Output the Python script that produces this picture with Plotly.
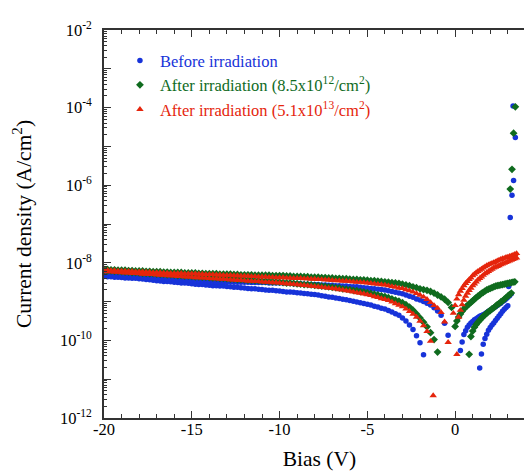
import plotly.graph_objects as go

# ---------------- data (log10 of current density, A/cm^2) ----------------
def steps(start, n, step):
    return [round(start + step * i, 2) for i in range(n)]

# common reverse-bias grid: -20.0 ... -3.2 V (0.2 V steps)
bias_rev = steps(-20.0, 85, 0.2)

# Before irradiation
blue_lo_rev = [-8.35, -8.36, -8.36, -8.37, -8.37, -8.38, -8.39, -8.39, -8.40, -8.40,
               -8.41, -8.42, -8.43, -8.44, -8.45, -8.46, -8.47, -8.48, -8.48, -8.49,
               -8.50, -8.51, -8.52, -8.52, -8.53, -8.54, -8.55, -8.56, -8.56, -8.57,
               -8.58, -8.59, -8.59, -8.60, -8.60, -8.61, -8.62, -8.63, -8.63, -8.64,
               -8.65, -8.66, -8.67, -8.67, -8.68, -8.69, -8.70, -8.71, -8.71, -8.72,
               -8.73, -8.74, -8.75, -8.75, -8.76, -8.77, -8.78, -8.79, -8.80, -8.81,
               -8.82, -8.83, -8.85, -8.86, -8.88, -8.89, -8.91, -8.92, -8.94, -8.95,
               -8.97, -8.99, -9.01, -9.03, -9.05, -9.07, -9.09, -9.12, -9.14, -9.17,
               -9.19, -9.23, -9.27, -9.31, -9.35]
blue_lo_tail_v = [-3.0, -2.8, -2.6, -2.4, -2.2, -2.0, -1.8]
blue_lo_tail = [-9.42, -9.50, -9.60, -9.72, -9.88, -10.06, -10.37]
blue_hi_rev = [-8.31, -8.32, -8.32, -8.33, -8.33, -8.34, -8.35, -8.35, -8.36, -8.36,
               -8.37, -8.38, -8.38, -8.39, -8.39, -8.40, -8.41, -8.41, -8.42, -8.42,
               -8.43, -8.44, -8.44, -8.45, -8.45, -8.46, -8.46, -8.47, -8.47, -8.48,
               -8.48, -8.48, -8.49, -8.49, -8.49, -8.49, -8.49, -8.50, -8.50, -8.50,
               -8.50, -8.50, -8.51, -8.51, -8.51, -8.51, -8.51, -8.52, -8.52, -8.52,
               -8.52, -8.52, -8.53, -8.53, -8.54, -8.54, -8.54, -8.55, -8.55, -8.56,
               -8.56, -8.56, -8.57, -8.57, -8.58, -8.58, -8.59, -8.59, -8.60, -8.60,
               -8.61, -8.62, -8.62, -8.63, -8.64, -8.65, -8.66, -8.67, -8.68, -8.69,
               -8.70, -8.72, -8.74, -8.76, -8.78]
blue_hi_tail_v = [-3.0, -2.8, -2.6, -2.4, -2.2, -2.0, -1.8, -1.6, -1.4, -1.2, -1.0, -0.8, -0.6, -0.4]
blue_hi_tail = [-8.80, -8.83, -8.86, -8.89, -8.93, -8.96, -9.00, -9.04, -9.09, -9.16,
                -9.24, -9.35, -9.56, -9.87]
blue_fwd_hi_v = steps(0.3, 30, 0.1)
blue_fwd_hi = [-10.26, -10.04, -9.85, -9.75, -9.66, -9.60, -9.55, -9.51, -9.47, -9.44,
               -9.41, -9.38, -9.36, -9.34, -9.31, -9.28, -9.25, -9.22, -9.19, -9.16,
               -9.13, -9.10, -9.07, -9.04, -9.00, -8.97, -8.93, -8.89, -8.85, -8.80]
blue_fwd_lo_v = steps(1.4, 17, 0.1)
blue_fwd_lo = [-10.71, -10.35, -10.10, -9.95, -9.84, -9.74, -9.67, -9.60, -9.55, -9.49,
               -9.43, -9.37, -9.31, -9.25, -9.20, -9.15, -9.11]
blue_end_v = [3.05, 3.14, 3.24, 3.33, 3.30, 3.43]
blue_end = [-8.61, -6.83, -6.26, -5.88, -3.96, -4.77]

# After irradiation 8.5e12
green_hi_rev = [-8.17, -8.17, -8.18, -8.18, -8.19, -8.19, -8.19, -8.20, -8.20, -8.21,
                -8.21, -8.21, -8.22, -8.22, -8.23, -8.23, -8.23, -8.24, -8.24, -8.25,
                -8.25, -8.25, -8.25, -8.26, -8.26, -8.26, -8.26, -8.27, -8.27, -8.28,
                -8.28, -8.28, -8.28, -8.29, -8.29, -8.29, -8.29, -8.30, -8.30, -8.31,
                -8.31, -8.31, -8.31, -8.32, -8.32, -8.32, -8.32, -8.32, -8.33, -8.33,
                -8.33, -8.33, -8.34, -8.34, -8.35, -8.35, -8.35, -8.36, -8.36, -8.37,
                -8.37, -8.37, -8.38, -8.38, -8.39, -8.39, -8.40, -8.40, -8.41, -8.41,
                -8.42, -8.43, -8.43, -8.44, -8.44, -8.45, -8.46, -8.46, -8.47, -8.48,
                -8.49, -8.50, -8.51, -8.52, -8.53]
green_hi_tail_v = [-3.0, -2.8, -2.6, -2.4, -2.2, -2.0, -1.8, -1.6, -1.4, -1.2, -1.0, -0.8, -0.6, -0.4, -0.2]
green_hi_tail = [-8.55, -8.57, -8.59, -8.62, -8.64, -8.67, -8.69, -8.71, -8.74, -8.78,
                 -8.83, -8.88, -8.94, -9.02, -9.15]
green_lo_rev = [-8.20, -8.21, -8.21, -8.22, -8.22, -8.23, -8.24, -8.24, -8.25, -8.25,
                -8.26, -8.27, -8.27, -8.28, -8.28, -8.29, -8.30, -8.30, -8.31, -8.31,
                -8.32, -8.33, -8.33, -8.34, -8.34, -8.35, -8.36, -8.36, -8.37, -8.37,
                -8.38, -8.39, -8.39, -8.40, -8.40, -8.41, -8.42, -8.42, -8.43, -8.43,
                -8.44, -8.45, -8.45, -8.46, -8.46, -8.47, -8.48, -8.48, -8.49, -8.49,
                -8.50, -8.51, -8.52, -8.52, -8.53, -8.54, -8.55, -8.56, -8.56, -8.57,
                -8.58, -8.59, -8.60, -8.61, -8.62, -8.63, -8.64, -8.65, -8.67, -8.68,
                -8.69, -8.71, -8.72, -8.74, -8.75, -8.77, -8.79, -8.81, -8.83, -8.85,
                -8.87, -8.90, -8.93, -8.96, -8.99]
green_lo_tail_v = [-3.0, -2.8, -2.6, -2.4, -2.2, -2.0, -1.8, -1.6, -1.4, -1.2, -1.0]
green_lo_tail = [-9.03, -9.08, -9.14, -9.22, -9.32, -9.42, -9.53, -9.65, -9.80, -9.98, -10.30]
green_fwd_hi_v = steps(0.0, 35, 0.1)
green_fwd_hi = [-9.64, -9.50, -9.40, -9.32, -9.25, -9.19, -9.14, -9.10, -9.06, -9.02,
                -8.98, -8.94, -8.90, -8.86, -8.83, -8.79, -8.76, -8.73, -8.70, -8.68,
                -8.66, -8.64, -8.62, -8.60, -8.59, -8.58, -8.57, -8.56, -8.55, -8.54,
                -8.53, -8.52, -8.51, -8.50, -8.49]
green_fwd_lo_v = steps(0.8, 25, 0.1)
green_fwd_lo = [-10.36, -9.90, -9.76, -9.66, -9.59, -9.53, -9.48, -9.43, -9.38, -9.34,
                -9.30, -9.26, -9.23, -9.19, -9.16, -9.12, -9.08, -9.05, -9.01, -8.98,
                -8.94, -8.90, -8.86, -8.82, -8.78]
green_end_v = [3.14, 3.24, 3.33, 3.43]
green_end = [-6.10, -5.59, -4.66, -3.98]

# After irradiation 5.1e13
red_hi_rev = [-8.19, -8.19, -8.20, -8.20, -8.21, -8.21, -8.21, -8.22, -8.22, -8.23,
              -8.23, -8.23, -8.24, -8.24, -8.25, -8.25, -8.25, -8.26, -8.26, -8.27,
              -8.27, -8.27, -8.27, -8.28, -8.28, -8.28, -8.28, -8.29, -8.29, -8.30,
              -8.30, -8.30, -8.31, -8.31, -8.32, -8.32, -8.32, -8.33, -8.33, -8.34,
              -8.34, -8.34, -8.35, -8.35, -8.36, -8.36, -8.36, -8.37, -8.37, -8.38,
              -8.38, -8.38, -8.39, -8.39, -8.40, -8.40, -8.40, -8.41, -8.41, -8.42,
              -8.42, -8.43, -8.43, -8.44, -8.44, -8.45, -8.46, -8.46, -8.47, -8.47,
              -8.48, -8.49, -8.50, -8.50, -8.51, -8.52, -8.53, -8.54, -8.55, -8.56,
              -8.57, -8.59, -8.61, -8.63, -8.65]
red_hi_tail_v = [-3.0, -2.8, -2.6, -2.4, -2.2, -2.0, -1.8, -1.6, -1.4, -1.2, -1.0, -0.8, -0.6, -0.4]
red_hi_tail = [-8.66, -8.69, -8.72, -8.75, -8.79, -8.83, -8.88, -8.94, -9.02, -9.10,
               -9.17, -9.28, -9.52, -10.05]
red_lo_rev = [-8.22, -8.23, -8.23, -8.24, -8.24, -8.25, -8.26, -8.26, -8.27, -8.27,
              -8.28, -8.29, -8.29, -8.30, -8.30, -8.31, -8.32, -8.32, -8.33, -8.33,
              -8.34, -8.35, -8.35, -8.36, -8.36, -8.37, -8.38, -8.38, -8.39, -8.39,
              -8.40, -8.41, -8.41, -8.42, -8.42, -8.43, -8.44, -8.44, -8.45, -8.45,
              -8.46, -8.47, -8.47, -8.48, -8.48, -8.49, -8.50, -8.50, -8.51, -8.51,
              -8.52, -8.53, -8.54, -8.54, -8.55, -8.56, -8.57, -8.58, -8.59, -8.60,
              -8.61, -8.62, -8.63, -8.64, -8.65, -8.66, -8.67, -8.69, -8.70, -8.72,
              -8.73, -8.75, -8.77, -8.78, -8.80, -8.82, -8.84, -8.87, -8.89, -8.92,
              -8.94, -8.97, -9.01, -9.05, -9.09]
red_lo_tail_v = [-3.0, -2.8, -2.6, -2.4, -2.2, -2.0, -1.8, -1.6, -1.4, -1.25]
red_lo_tail = [-9.13, -9.19, -9.25, -9.32, -9.40, -9.50, -9.62, -9.77, -10.02, -11.42]
red_fwd_hi_v = steps(-0.1, 37, 0.1)
red_fwd_hi = [-9.30, -9.10, -8.93, -8.82, -8.73, -8.66, -8.59, -8.53, -8.48, -8.43,
              -8.39, -8.33, -8.29, -8.25, -8.22, -8.19, -8.16, -8.13, -8.10, -8.07,
              -8.05, -8.03, -8.01, -7.99, -7.97, -7.95, -7.93, -7.91, -7.89, -7.88,
              -7.86, -7.85, -7.83, -7.82, -7.80, -7.78, -7.76]
red_fwd_lo_v = steps(0.1, 35, 0.1)
red_fwd_lo = [-10.36, -9.40, -9.22, -9.08, -8.96, -8.86, -8.78, -8.71, -8.65, -8.59,
              -8.54, -8.49, -8.44, -8.40, -8.36, -8.32, -8.28, -8.25, -8.22, -8.19,
              -8.16, -8.13, -8.11, -8.09, -8.07, -8.05, -8.03, -8.01, -7.99, -7.97,
              -7.95, -7.93, -7.91, -7.89, -7.87]

# ---------------- assemble ----------------
def collect(pairs):
    xs, ys = [], []
    for v, lg in pairs:
        assert len(v) == len(lg), (len(v), len(lg))
        xs += list(v)
        ys += [10 ** l for l in lg]
    return xs, ys

bx, by = collect([(bias_rev, blue_lo_rev), (blue_lo_tail_v, blue_lo_tail),
                  (bias_rev, blue_hi_rev), (blue_hi_tail_v, blue_hi_tail),
                  (blue_fwd_hi_v, blue_fwd_hi), (blue_fwd_lo_v, blue_fwd_lo),
                  (blue_end_v, blue_end)])
gx, gy = collect([(bias_rev, green_lo_rev), (green_lo_tail_v, green_lo_tail),
                  (bias_rev, green_hi_rev), (green_hi_tail_v, green_hi_tail),
                  (green_fwd_hi_v, green_fwd_hi), (green_fwd_lo_v, green_fwd_lo),
                  (green_end_v, green_end)])
rx, ry = collect([(bias_rev, red_lo_rev), (red_lo_tail_v, red_lo_tail),
                  (bias_rev, red_hi_rev), (red_hi_tail_v, red_hi_tail),
                  (red_fwd_hi_v, red_fwd_hi), (red_fwd_lo_v, red_fwd_lo)])

BLUE = "#1733d9"
GREEN = "#0f6b1e"
RED = "#e5250c"
FONT = "'Liberation Serif', 'Times New Roman', serif"

fig = go.Figure()
fig.add_trace(go.Scatter(
    x=bx, y=by, mode="markers",
    name=f'<span style="color:{BLUE}">Before irradiation</span>',
    marker=dict(symbol="circle", size=5.5, color=BLUE, line=dict(width=0))))
fig.add_trace(go.Scatter(
    x=gx, y=gy, mode="markers",
    name=f'<span style="color:{GREEN}">After irradiation (8.5x10<sup>12</sup>/cm<sup>2</sup>)</span>',
    marker=dict(symbol="diamond", size=6, color=GREEN, line=dict(width=0))))
fig.add_trace(go.Scatter(
    x=rx, y=ry, mode="markers",
    name=f'<span style="color:{RED}">After irradiation (5.1x10<sup>13</sup>/cm<sup>2</sup>)</span>',
    marker=dict(symbol="triangle-up", size=6.5, color=RED, line=dict(width=0))))

AX = "#333333"
ytv = [10.0 ** e for e in range(-12, -1)]
ytt = [f"10<sup>{e}</sup>" if e % 2 == 0 else "" for e in range(-12, -1)]
yminor = [m * 10.0 ** e for e in range(-12, -2) for m in range(2, 10)]

fig.update_layout(
    width=532, height=474,
    margin=dict(l=96, r=5, t=22, b=64),
    paper_bgcolor="white", plot_bgcolor="white",
    font=dict(family=FONT, size=16, color="black"),
    showlegend=True,
    legend=dict(x=0.037, y=0.966, xanchor="left", yanchor="top",
                bgcolor="rgba(0,0,0,0)", font=dict(family=FONT, size=16.5),
                itemsizing="trace", tracegroupgap=0),
    xaxis=dict(range=[-20, 4.55], tickvals=[-20, -15, -10, -5, 0],
               ticktext=["-20", "-15", "-10", "-5", "0"],
               ticks="inside", ticklen=7, tickwidth=1.3, tickcolor=AX,
               minor=dict(dtick=1, ticks="inside", ticklen=4, tickwidth=1.3, tickcolor=AX),
               showline=True, linecolor=AX, linewidth=1.6, mirror="ticks",
               showgrid=False, zeroline=False, automargin=False,
               tickfont=dict(family=FONT, size=16.5), ticklabelstandoff=-5,
               title=dict(text="Bias (V)", font=dict(family=FONT, size=21.5), standoff=13)),
    yaxis=dict(type="log", range=[-12, -2], tickvals=ytv, ticktext=ytt,
               ticks="inside", ticklen=7, tickwidth=1.3, tickcolor=AX,
               minor=dict(tickvals=yminor, ticks="inside", ticklen=3.5, tickwidth=1, tickcolor=AX),
               showline=True, linecolor=AX, linewidth=1.6, mirror="ticks",
               showgrid=False, zeroline=False, automargin=False,
               tickfont=dict(family=FONT, size=16.5), ticklabelstandoff=7,
               title=dict(text="Current density (A/cm<sup>2</sup>)",
                          font=dict(family=FONT, size=21.5), standoff=22)),
)

fig.write_html("out.html")
